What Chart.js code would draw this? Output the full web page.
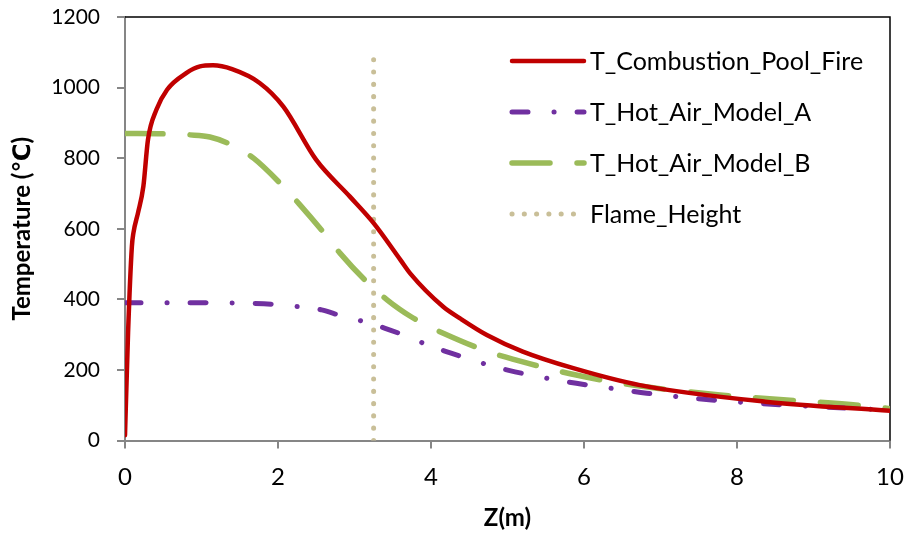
<!DOCTYPE html>
<html>
<head>
<meta charset="utf-8">
<title>Temperature along Z</title>
<script src="https://cdn.jsdelivr.net/npm/chart.js@4.4.0/dist/chart.umd.min.js"></script>
<style>
  html, body { margin: 0; padding: 0; background: #fff; }
  #wrap { width: 908px; height: 534px; }
</style>
</head>
<body>
<div id="wrap"><canvas id="temp-chart" width="908" height="534"></canvas></div>
<script>
// values (Z in m, T in degC)
const zFire = [0, 0.04, 0.09, 0.11, 0.17, 0.24, 0.3, 0.41, 0.55, 0.8, 0.98, 1.15, 1.4, 1.76, 2.07, 2.5, 2.94, 3.25, 3.6, 3.73, 4.16, 4.38, 4.73, 5.2, 5.86, 6.73, 8.37, 10];
const tFire = [15, 305, 550, 588, 645, 720, 852, 937, 994, 1041, 1060, 1063, 1052, 1013, 946, 795, 691, 616, 512, 473, 379, 346, 299, 252, 205, 157, 110, 84];

const zModelA = [0, 0.5, 1.0, 1.5, 1.94, 2.27, 2.57, 2.83, 3.12, 3.4, 3.64, 3.92, 4.2, 4.47, 4.75, 5.03, 5.29, 5.6, 5.9, 6.45, 6.82, 7.67, 8.6, 9.9, 10];
const tModelA = [390, 390, 390, 389, 386, 379, 370, 353, 337, 318, 299, 274, 252, 233, 214, 198, 186, 173, 162, 145, 134, 115, 101, 87, 86];

const zModelB = [0, 0.5, 0.85, 1.11, 1.39, 1.68, 2.05, 2.27, 2.62, 2.81, 3.2, 3.43, 3.59, 3.73, 3.9, 4.16, 4.68, 4.98, 5.51, 5.82, 6.34, 6.64, 6.95, 7.78, 8.65, 9.78, 10];
const tModelB = [870, 869, 866, 860, 838, 800, 724, 672, 583, 531, 441, 398, 372, 352, 331, 304, 257, 236, 205, 189, 167, 157, 148, 129, 115, 96, 90];

const flameZ = [3.25, 3.25];
const flameT = [0, 1080];

const seriesNames = ["T_Combustion_Pool_Fire", "T_Hot_Air_Model_A", "T_Hot_Air_Model_B", "Flame_Height"];
const xTicks = [0, 2, 4, 6, 8, 10];
const yTicks = [0, 200, 400, 600, 800, 1000, 1200];

const FONT = "Lato, 'Liberation Sans', 'DejaVu Sans', sans-serif";
const AXIS_GREY = "#868686";

function points(xs, ys) {
  return xs.map((x, i) => ({ x: x, y: ys[i] }));
}

// top + right frame lines are black in the original
const framePlugin = {
  id: "frame",
  beforeDatasetsDraw(chart) {
    const { ctx, chartArea: a } = chart;
    ctx.save();
    ctx.strokeStyle = "#000";
    ctx.lineWidth = 1.5;
    ctx.beginPath();
    ctx.moveTo(a.left, a.top);
    ctx.lineTo(a.right, a.top);
    ctx.lineTo(a.right, a.bottom);
    ctx.stroke();
    ctx.restore();
  },
};

// legend stacked inside the plot, upper right
const legendPlugin = {
  id: "insideLegend",
  afterDraw(chart) {
    const { ctx } = chart;
    const x0 = 512, lineLen = 72, textX = 590, y0 = 61, rowGap = 51;
    ctx.save();
    chart.data.datasets.forEach((ds, i) => {
      const y = y0 + i * rowGap;
      ctx.strokeStyle = ds.borderColor;
      ctx.lineWidth = ds.borderWidth;
      ctx.lineCap = "round";
      ctx.setLineDash(ds.borderDash || []);
      ctx.beginPath();
      ctx.moveTo(x0, y);
      ctx.lineTo(x0 + lineLen, y);
      ctx.stroke();
      ctx.setLineDash([]);
      ctx.fillStyle = "#000";
      ctx.font = "25px " + FONT;
      ctx.textBaseline = "middle";
      ctx.fillText(ds.label, textX, y + 1);
    });
    ctx.restore();
  },
};

const lineBase = {
  pointRadius: 0,
  fill: false,
  borderCapStyle: "round",
  cubicInterpolationMode: "monotone",
};

new Chart(document.getElementById("temp-chart"), {
  type: "line",
  data: {
    datasets: [
      Object.assign({}, lineBase, {
        label: seriesNames[0],
        data: points(zFire, tFire),
        borderColor: "#C00000",
        borderWidth: 4.5,
      }),
      Object.assign({}, lineBase, {
        label: seriesNames[1],
        data: points(zModelA, tModelA),
        borderColor: "#7030A0",
        borderWidth: 5,
        borderDash: [16, 26, 0.1, 23],
      }),
      Object.assign({}, lineBase, {
        label: seriesNames[2],
        data: points(zModelB, tModelB),
        borderColor: "#9BBB59",
        borderWidth: 5.5,
        borderDash: [38, 27],
      }),
      Object.assign({}, lineBase, {
        label: seriesNames[3],
        data: points(flameZ, flameT),
        borderColor: "#C9BF98",
        borderWidth: 5,
        borderDash: [0.1, 12.18],
        cubicInterpolationMode: "default",
      }),
    ],
  },
  options: {
    responsive: false,
    devicePixelRatio: 1,
    animation: false,
    layout: { padding: { top: 17, right: 18, left: 0, bottom: 0 } },
    plugins: {
      legend: { display: false },
      tooltip: { enabled: false },
    },
    scales: {
      x: {
        type: "linear",
        min: 0,
        max: 10,
        afterBuildTicks: (scale) => { scale.ticks = xTicks.map((v) => ({ value: v })); },
        afterFit: (scale) => {
          scale.height = 93.5;
          scale.paddingLeft = 0;
          scale.paddingRight = 0;
        },
        grid: { drawOnChartArea: false, drawTicks: true, tickLength: 8, color: AXIS_GREY, lineWidth: 2 },
        border: { display: true, color: AXIS_GREY, width: 2 },
        ticks: { color: "#000", font: { family: FONT, size: 24 }, padding: 14, maxRotation: 0, callback: (v) => String(v) },
        title: {
          display: true,
          text: "Z(m)",
          color: "#000",
          font: { family: FONT, size: 24, weight: "bold" },
          padding: { top: 0, bottom: 1.5 },
        },
      },
      y: {
        type: "linear",
        min: 0,
        max: 1200,
        afterBuildTicks: (scale) => { scale.ticks = yTicks.map((v) => ({ value: v })); },
        afterFit: (scale) => {
          scale.width = 125;
          // the tick padding would otherwise push the plot top down
          scale.paddingTop = 0;
          scale.paddingBottom = 0;
        },
        grid: { drawOnChartArea: false, drawTicks: true, tickLength: 8, color: AXIS_GREY, lineWidth: 2 },
        border: { display: true, color: AXIS_GREY, width: 2 },
        ticks: { color: "#000", font: { family: FONT, size: 21 }, padding: 17, callback: (v) => String(v) },
        title: {
          display: true,
          text: "Temperature (℃)",
          color: "#000",
          font: { family: FONT, size: 24, weight: "bold" },
          padding: { top: 8, bottom: 0 },
        },
      },
    },
  },
  plugins: [framePlugin, legendPlugin],
});
</script>
</body>
</html>
